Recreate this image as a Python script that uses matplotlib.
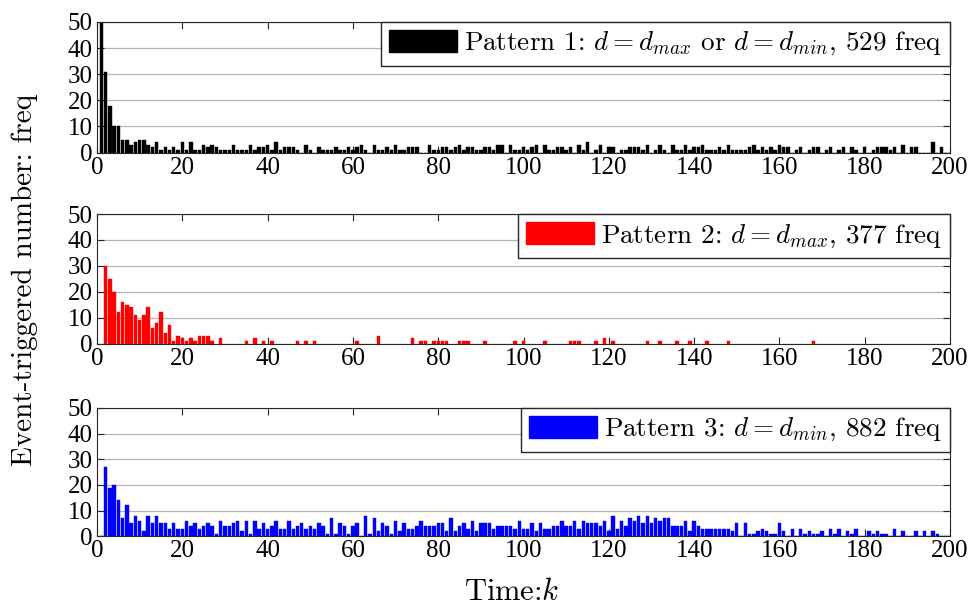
import numpy as np
import matplotlib
matplotlib.use("Agg")
import matplotlib.pyplot as plt
from matplotlib.patches import Patch

plt.rcParams["font.family"] = ["Liberation Serif", "DejaVu Serif"]
plt.rcParams["mathtext.fontset"] = "cm"
plt.rcParams["axes.unicode_minus"] = False

# pattern 1: counts for k = 1..200
p1_counts = [
    60, 31, 18, 10, 10, 5, 5, 3, 4, 5, 5, 3, 2, 4, 1, 2, 1, 2, 1, 4,
    1, 4, 1, 1, 3, 2, 3, 2, 1, 1, 1, 3, 1, 1, 1, 3, 1, 2, 2, 3,
    1, 4, 1, 2, 2, 2, 1, 0, 3, 1, 0, 2, 1, 1, 1, 2, 1, 1, 2, 1,
    2, 3, 1, 0, 3, 1, 1, 2, 1, 3, 1, 1, 2, 2, 2, 0, 0, 3, 1, 1,
    2, 2, 1, 2, 3, 1, 2, 2, 1, 1, 2, 2, 1, 3, 3, 0, 3, 1, 1, 2,
    1, 2, 3, 0, 3, 1, 1, 2, 2, 1, 2, 0, 3, 1, 4, 0, 1, 3, 0, 2,
    2, 0, 1, 1, 2, 2, 2, 1, 3, 0, 1, 3, 1, 0, 3, 1, 1, 3, 1, 2,
    2, 3, 1, 1, 1, 2, 1, 3, 1, 1, 1, 1, 2, 3, 1, 2, 1, 2, 1, 3,
    2, 2, 0, 1, 2, 0, 1, 2, 2, 0, 1, 2, 0, 1, 2, 0, 2, 1, 0, 2,
    0, 1, 2, 2, 2, 1, 2, 0, 3, 0, 2, 2, 0, 0, 0, 4, 0, 2, 0, 0,
]

# pattern 2: sparse, time steps and counts
p2_k = list(range(2, 28)) + [29, 35, 37, 39, 41, 47, 49, 51, 61, 66, 74, 76, 77,
                              79, 80, 81, 82, 85, 86, 87, 91, 98, 100, 105, 111,
                              112, 113, 117, 119, 121, 129, 132, 136, 139, 143,
                              148, 168]
p2_counts = [30, 25, 20, 12, 16, 15, 14, 11, 9, 11, 14, 6, 8, 12, 4, 7, 1, 3, 2,
             1, 2, 1, 3, 3, 3, 1,
             2, 1, 2, 1, 1, 1, 1, 1, 1, 3, 2, 1, 1,
             1, 1, 1, 1, 1, 1, 1, 1, 1, 1, 1, 1,
             1, 1, 1, 2, 1, 1, 1, 1, 1, 1,
             1, 1]

# pattern 3: counts for k = 1..200
p3_counts = [
    0, 27, 19, 20, 14, 7, 12, 5, 8, 6, 2, 8, 5, 8, 5, 5, 3, 5, 3, 3,
    6, 4, 5, 3, 4, 5, 4, 1, 6, 4, 4, 5, 6, 2, 6, 1, 6, 3, 5, 3,
    4, 6, 3, 3, 6, 3, 4, 5, 3, 4, 3, 5, 4, 1, 7, 1, 5, 4, 1, 4,
    5, 0, 8, 1, 7, 2, 5, 4, 1, 6, 2, 5, 3, 3, 4, 6, 4, 4, 4, 5,
    5, 2, 7, 2, 4, 5, 3, 6, 2, 5, 5, 5, 3, 4, 4, 4, 4, 3, 6, 3,
    3, 5, 2, 5, 3, 3, 4, 4, 6, 4, 4, 6, 3, 6, 5, 5, 5, 4, 6, 2,
    8, 3, 6, 4, 7, 6, 8, 5, 8, 5, 7, 6, 7, 7, 4, 4, 4, 6, 2, 6,
    4, 3, 3, 3, 3, 3, 3, 3, 2, 5, 0, 5, 1, 1, 2, 3, 2, 1, 1, 5,
    2, 0, 3, 0, 3, 1, 2, 1, 1, 2, 0, 3, 1, 3, 0, 2, 1, 3, 0, 0,
    2, 1, 2, 1, 1, 0, 3, 0, 2, 0, 0, 2, 0, 2, 0, 2, 1, 0, 0, 0,
]

time_k = np.arange(1, 201)

panels = [
    (time_k, p1_counts, "black",
     r"Pattern 1: $d=d_{max}$ or $d=d_{min}$, 529 freq"),
    (p2_k, p2_counts, "red", r"Pattern 2: $d=d_{max}$, 377 freq"),
    (time_k, p3_counts, "blue", r"Pattern 3: $d=d_{min}$, 882 freq"),
]

# axes boxes in figure fractions [left, bottom, width, height]
boxes = [
    [0.0994, 0.749, 0.874, 0.215],
    [0.0994, 0.435, 0.874, 0.213],
    [0.0994, 0.118, 0.874, 0.211],
]

fig = plt.figure(figsize=(9.76, 6.08), dpi=100)

for (xs, ys, color, label), box in zip(panels, boxes):
    ax = fig.add_axes(box)
    ax.bar(xs, ys, width=0.8, color=color, edgecolor=color, linewidth=0.3)
    ax.set_xlim(0, 200)
    ax.set_ylim(0, 50)
    ax.set_xticks(np.arange(0, 201, 20))
    ax.set_yticks(np.arange(0, 51, 10))
    ax.grid(axis="y", color="#b4b4b4", linewidth=0.9)
    ax.set_axisbelow(True)
    ax.tick_params(direction="in", top=True, right=True, labelsize=18,
                   length=5, width=0.8, color="#262626", pad=3)
    for sp in ax.spines.values():
        sp.set_color("#262626")
        sp.set_linewidth(0.8)
    handle = Patch(facecolor=color, edgecolor=color)
    ax.legend([handle], [label], loc="upper right",
              prop={"family": "cmr10", "size": 19.5},
              handlelength=2.5, handleheight=0.85, handletextpad=0.25,
              borderpad=0.3, borderaxespad=0.0, fancybox=False,
              framealpha=1, edgecolor="#262626")

fig.text(0.524, 0.003, r"Time:$k$", ha="center", va="bottom",
         family="cmr10", fontsize=22)
fig.text(0.012, 0.54, "Event-triggered number: freq", rotation=90,
         ha="left", va="center", family="cmr10", fontsize=21)

fig.savefig("out.png", dpi=100)
